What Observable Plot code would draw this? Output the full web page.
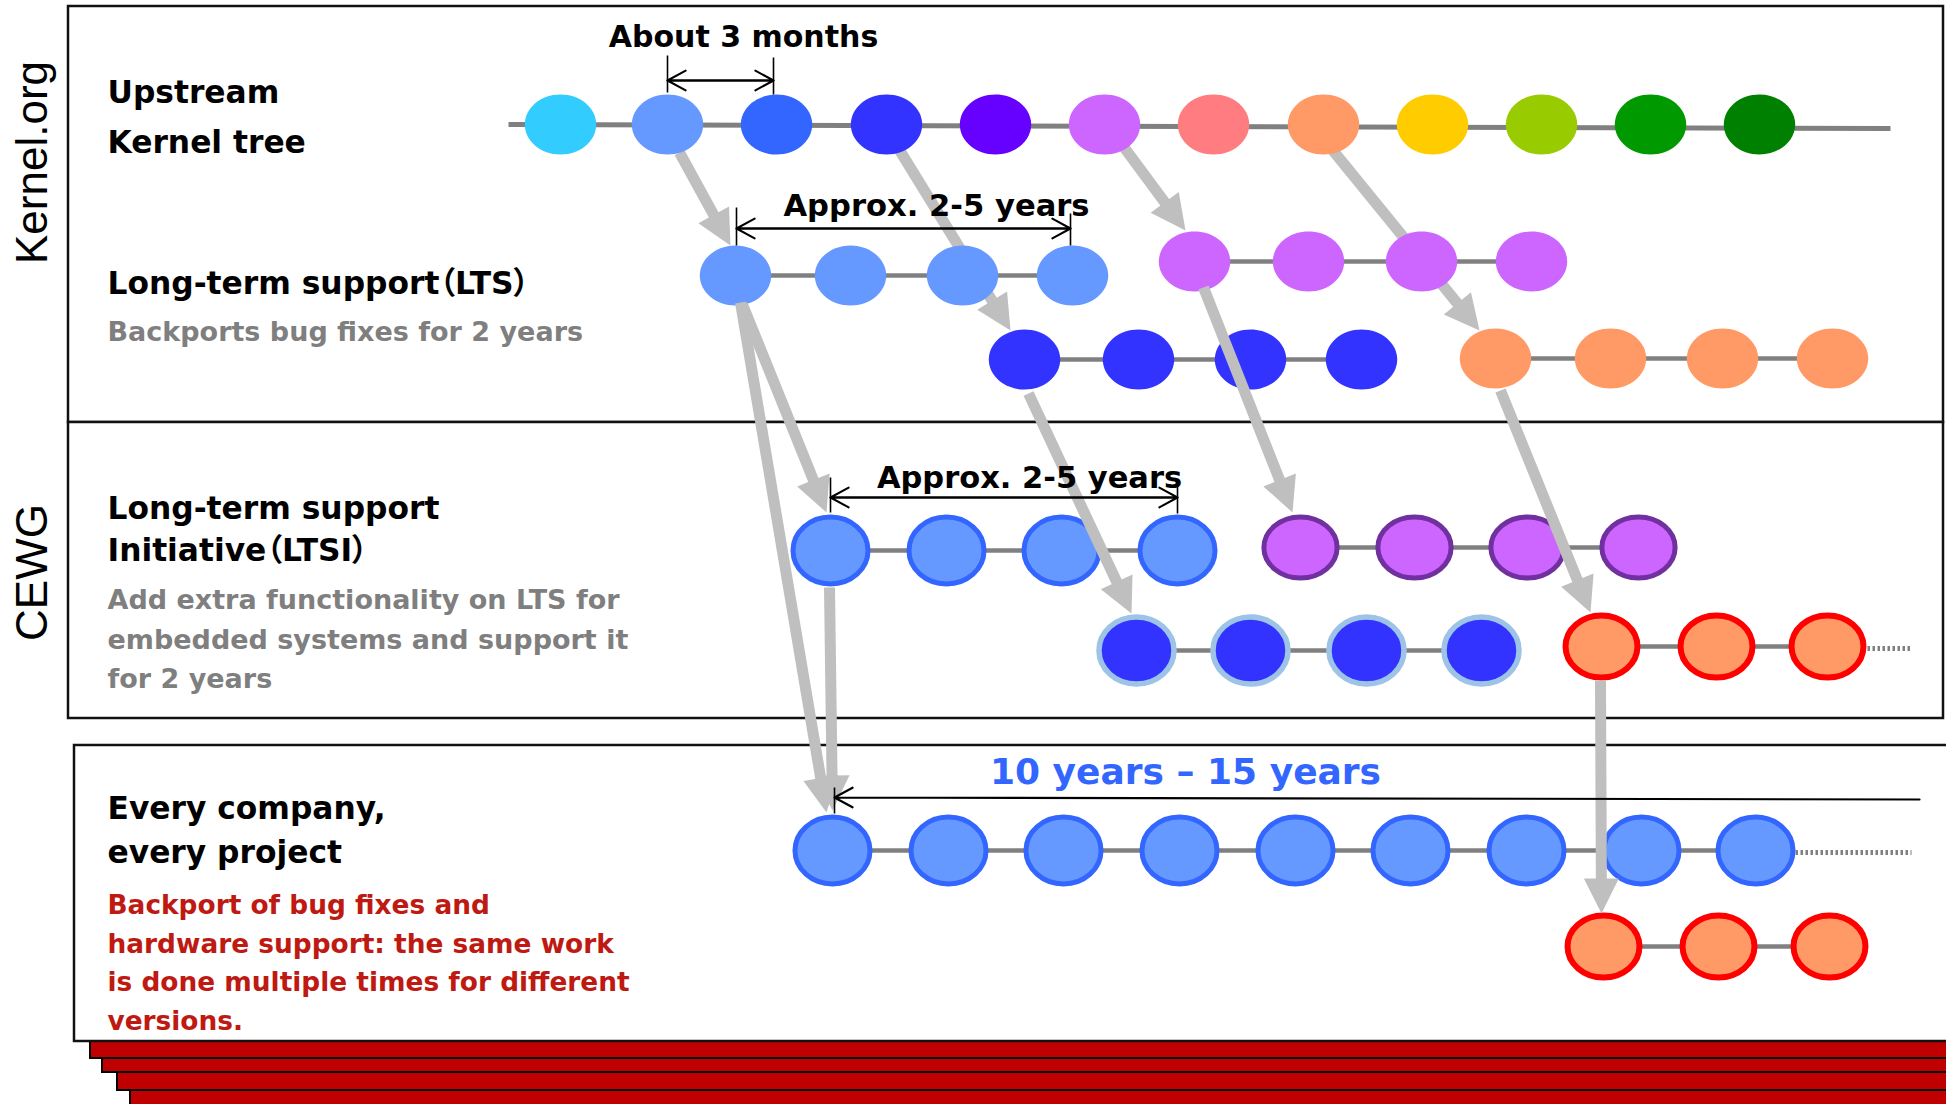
<!DOCTYPE html>
<html>
<head>
<meta charset="utf-8">
<script src="https://cdn.jsdelivr.net/npm/d3@7"></script>
<script src="https://cdn.jsdelivr.net/npm/@observablehq/plot@0.6"></script>
<style>
  html, body { margin: 0; padding: 0; background: #ffffff; }
  svg { display: block; }
  svg text { font-feature-settings: "palt" 1; }
</style>
</head>
<body>
<div id="chart"></div>
<script>
// ---------------- data (diagram units) ----------------
// Upstream kernel releases (one every ~3 months)
const upstreamX = [560, 667, 776, 886, 995, 1104, 1213, 1323, 1432, 1541, 1650, 1759];
const upstreamColors = ["#33CCFF", "#6699FF", "#3366FF", "#3333FF", "#6600FF", "#CC66FF",
                        "#FF7C80", "#FF9966", "#FFCC00", "#99CC00", "#009900", "#008000"];
const upstreamRowY = 124;
const upstreamSpan = [508, 1890];

// Long-term support (LTS) branches
const ltsRows = [
  {y: 275, x: [735, 850, 962, 1072], fill: "#6699FF"},
  {y: 261, x: [1194, 1308, 1421, 1531], fill: "#CC66FF"},
  {y: 359, x: [1024, 1138, 1250, 1361], fill: "#3333FF"},
  {y: 358, x: [1495, 1610, 1722, 1832], fill: "#FF9966"}
];

// LTSI branches (CEWG)
const ltsiRows = [
  {y: 550, x: [830, 946, 1061, 1177], fill: "#6699FF", ring: "#3366FF"},
  {y: 547, x: [1300, 1414, 1527, 1638], fill: "#CC66FF", ring: "#7030A0"},
  {y: 650, x: [1136, 1250, 1366, 1481], fill: "#3333FF", ring: "#9DC3E6"},
  {y: 646, x: [1601, 1716, 1827], fill: "#FF9966", ring: "#FF0000", tail: 1910}
];

// Every company / every project
const companyRows = [
  {y: 850, x: [832, 948, 1063, 1179, 1295, 1410, 1526, 1641, 1755], fill: "#6699FF", ring: "#3366FF", tail: 1911},
  {y: 946, x: [1603, 1718, 1829], fill: "#FF9966", ring: "#FF0000"}
];

// Branch-off arrows: upstream -> LTS
const branchArrows = [
  {x1: 679, y1: 152, x2: 730, y2: 245},
  {x1: 898, y1: 148, x2: 1010, y2: 330},
  {x1: 1120, y1: 142, x2: 1185, y2: 230},
  {x1: 1330, y1: 147, x2: 1479, y2: 330}
];
// Branch-off arrows: LTS -> LTSI -> companies
const downstreamArrows = [
  {x1: 742, y1: 304, x2: 826, y2: 512},
  {x1: 740, y1: 302, x2: 826, y2: 812},
  {x1: 829, y1: 587, x2: 832, y2: 810},
  {x1: 1028, y1: 393, x2: 1131, y2: 613},
  {x1: 1203, y1: 287, x2: 1292, y2: 512},
  {x1: 1500, y1: 390, x2: 1590, y2: 612},
  {x1: 1600, y1: 680, x2: 1601, y2: 913}
];

// Dimension spans (double-headed) and their ticks
const spans = [
  {x1: 667, x2: 773, y: 80},
  {x1: 736, x2: 1070, y: 228},
  {x1: 830, x2: 1177, y: 497}
];
const spanTicks = [
  {x: 667, y1: 55, y2: 92}, {x: 773, y1: 57, y2: 94},
  {x: 736, y1: 207, y2: 245}, {x: 1070, y1: 213, y2: 245},
  {x: 830, y1: 477, y2: 512}, {x: 1177, y1: 483, y2: 513},
  {x: 834, y1: 787, y2: 813}
];
const lifeSpan = [{x1: 1919, y1: 799, x2: 834, y2: 797}];

const spanLabels = [
  {text: "About 3 months", x: 743, y: 46, size: 30},
  {text: "Approx. 2-5 years", x: 936, y: 215, size: 30.6},
  {text: "Approx. 2-5 years", x: 1029, y: 487, size: 30.5}
];
const lifeLabel = [{text: "10 years – 15 years", x: 1185, y: 783}];

// Section frames and stacked "pages"
const frames = [
  {x1: 68, y1: 6, x2: 1943, y2: 422},
  {x1: 68, y1: 422, x2: 1943, y2: 718},
  {x1: 74, y1: 745, x2: 1970, y2: 1041}
];
const pages = [
  {x1: 130, y1: 1000, x2: 1970, y2: 1130},
  {x1: 117, y1: 1000, x2: 1970, y2: 1090},
  {x1: 102, y1: 1000, x2: 1970, y2: 1072},
  {x1: 90, y1: 1000, x2: 1970, y2: 1058}
];

const sideLabels = [
  {text: "Kernel.org", x: 46, y: 162},
  {text: "CEWG", x: 46, y: 572}
];
const titleLines = [
  {text: "Upstream", x: 107, y: 102},
  {text: "Kernel tree", x: 107, y: 152},
  {text: "Long-term support（LTS）", x: 107, y: 293},
  {text: "Long-term support", x: 107, y: 518},
  {text: "Initiative（LTSI）", x: 107, y: 560},
  {text: "Every company,", x: 107, y: 818},
  {text: "every project", x: 107, y: 862}
];
const grayNotes = [
  {text: "Backports bug fixes for 2 years", x: 107, y: 340},
  {text: "Add extra functionality on LTS for", x: 107, y: 608},
  {text: "embedded systems and support it", x: 107, y: 648},
  {text: "for 2 years", x: 107, y: 687}
];
const redNotes = [
  {text: "Backport of bug fixes and", x: 107, y: 913},
  {text: "hardware support: the same work", x: 107, y: 952},
  {text: "is done multiple times for different", x: 107, y: 990},
  {text: "versions.", x: 107, y: 1029}
];

// ---------------- helpers ----------------
const BOLD = "'DejaVu Sans', 'Noto Sans CJK JP', Verdana, sans-serif";
const ARROW_GRAY = "#BFBFBF";
const LINE_GRAY = "#808080";

function ellipseSymbol(aspect) {
  const k = 0.5522847;
  return {
    draw(ctx, size) {
      const ry = Math.sqrt(size / Math.PI), rx = ry * aspect;
      ctx.moveTo(rx, 0);
      ctx.bezierCurveTo(rx, k * ry, k * rx, ry, 0, ry);
      ctx.bezierCurveTo(-k * rx, ry, -rx, k * ry, -rx, 0);
      ctx.bezierCurveTo(-rx, -k * ry, -k * rx, -ry, 0, -ry);
      ctx.bezierCurveTo(k * rx, -ry, rx, -k * ry, rx, 0);
      ctx.closePath();
    }
  };
}

const ringStyle = {
  "#3366FF": {r: 33.5, aspect: 1.12, w: 5},
  "#9DC3E6": {r: 33.5, aspect: 1.12, w: 5.5},
  "#7030A0": {r: 30.5, aspect: 1.2, w: 5},
  "#FF0000": {r: 31, aspect: 1.16, w: 6}
};

function fatArrows(data) {
  const HL = 35, HW = 35;
  const geo = data.map((d, i) => {
    const dx = d.x2 - d.x1, dy = d.y2 - d.y1, L = Math.hypot(dx, dy);
    const ux = dx / L, uy = dy / L;
    const bx = d.x2 - ux * HL, by = d.y2 - uy * HL;
    return {
      ...d, id: i,
      sx: d.x2 - ux * (HL - 4), sy: d.y2 - uy * (HL - 4),
      tri: [[d.x2, d.y2], [bx - uy * HW / 2, by + ux * HW / 2], [bx + uy * HW / 2, by - ux * HW / 2], [d.x2, d.y2]]
    };
  });
  const heads = geo.flatMap(d => d.tri.map(([x, y]) => ({x, y, id: d.id})));
  return [
    Plot.link(geo, {x1: "x1", y1: "y1", x2: "sx", y2: "sy", stroke: ARROW_GRAY, strokeWidth: 11}),
    Plot.line(heads, {x: "x", y: "y", z: "id", fill: ARROW_GRAY, stroke: "none"})
  ];
}

function rowLine(rows) {
  return Plot.link(rows, {
    x1: d => d.x[0], x2: d => d.x[d.x.length - 1], y1: "y", y2: "y",
    stroke: LINE_GRAY, strokeWidth: 4.5
  });
}

function rowTails(rows) {
  const t = rows.filter(d => d.tail != null);
  return Plot.link(t, {
    x1: d => d.x[d.x.length - 1] + 40, x2: "tail", y1: d => d.y + 2, y2: d => d.y + 2,
    stroke: LINE_GRAY, strokeWidth: 5, strokeDasharray: "2.5,2.5"
  });
}

function ringNodes(rows) {
  return rows.map(row => {
    const st = ringStyle[row.ring];
    return Plot.dot(row.x.map(x => ({x, y: row.y})), {
      x: "x", y: "y", r: st.r, symbol: ellipseSymbol(st.aspect),
      fill: row.fill, stroke: row.ring, strokeWidth: st.w
    });
  });
}

// ---------------- chart ----------------
const upstreamNodes = upstreamX.map((x, i) => ({x, y: upstreamRowY, fill: upstreamColors[i]}));
const ltsNodes = ltsRows.flatMap(row => row.x.map(x => ({x, y: row.y, fill: row.fill})));

const chart = Plot.plot({
  width: 1946,
  height: 1104,
  margin: 0,
  x: {domain: [0, 1946], range: [0, 1946], axis: null},
  y: {domain: [0, 1104], range: [0, 1104], axis: null},
  color: {type: "identity"},
  style: {background: "#ffffff", overflow: "hidden"},
  marks: [
    // stacked red pages behind the "every company" frame
    Plot.rect(pages, {x1: "x1", x2: "x2", y1: "y1", y2: "y2", fill: "#C00000", stroke: "#000000", strokeWidth: 2}),
    // section frames
    Plot.rect(frames, {x1: "x1", x2: "x2", y1: "y1", y2: "y2", fill: "#ffffff", stroke: "#111111", strokeWidth: 2.5}),

    // timelines
    Plot.link([{x1: upstreamSpan[0], x2: upstreamSpan[1], y: upstreamRowY}], {
      x1: "x1", x2: "x2", y1: "y", y2: d => d.y + 4, stroke: LINE_GRAY, strokeWidth: 5
    }),
    rowLine(ltsRows),
    rowLine(ltsiRows),
    rowLine(companyRows),
    rowTails([...ltsiRows, ...companyRows]),

    // upstream -> LTS arrows (behind the nodes)
    ...fatArrows(branchArrows),

    // nodes
    Plot.dot(upstreamNodes, {x: "x", y: "y", r: 30, symbol: ellipseSymbol(1.19), fill: "fill"}),
    Plot.dot(ltsNodes, {x: "x", y: "y", r: 30, symbol: ellipseSymbol(1.19), fill: "fill"}),
    ...ringNodes(ltsiRows),
    ...ringNodes(companyRows),

    // LTS -> LTSI -> company arrows
    ...fatArrows(downstreamArrows),

    // dimension lines
    Plot.link(spanTicks, {x1: "x", x2: "x", y1: "y1", y2: "y2", stroke: "#000000", strokeWidth: 1.6}),
    Plot.arrow(spans, {x1: "x1", y1: "y", x2: "x2", y2: "y", stroke: "#000000", strokeWidth: 2, headLength: 15.5, headAngle: 57}),
    Plot.arrow(spans, {x1: "x2", y1: "y", x2: "x1", y2: "y", stroke: "#000000", strokeWidth: 2, headLength: 15.5, headAngle: 57}),
    Plot.arrow(lifeSpan, {x1: "x1", y1: "y1", x2: "x2", y2: "y2", stroke: "#000000", strokeWidth: 2.2, headLength: 14, headAngle: 57}),

    // texts
    Plot.text(sideLabels, {x: "x", y: "y", text: "text", rotate: -90, textAnchor: "middle", lineAnchor: "bottom",
      fontFamily: "'Liberation Sans', Arial, sans-serif", fontSize: 44, fill: "#000000"}),
    Plot.text(titleLines, {x: "x", y: "y", text: "text", textAnchor: "start", lineAnchor: "bottom",
      fontFamily: BOLD, fontWeight: "bold", fontSize: 31.3, fill: "#000000"}),
    Plot.text(grayNotes, {x: "x", y: "y", text: "text", textAnchor: "start", lineAnchor: "bottom",
      fontFamily: BOLD, fontWeight: "bold", fontSize: 27, fill: "#7F7F7F"}),
    Plot.text(redNotes, {x: "x", y: "y", text: "text", textAnchor: "start", lineAnchor: "bottom",
      fontFamily: BOLD, fontWeight: "bold", fontSize: 26.4, fill: "#BE1A12"}),
    Plot.text(spanLabels, {x: "x", y: "y", text: "text", textAnchor: "middle", lineAnchor: "bottom",
      fontFamily: BOLD, fontWeight: "bold", fontSize: d => d.size, fill: "#000000"}),
    Plot.text(lifeLabel, {x: "x", y: "y", text: "text", textAnchor: "middle", lineAnchor: "bottom",
      fontFamily: BOLD, fontWeight: "bold", fontSize: 36, fill: "#3366FF"})
  ]
});

document.getElementById("chart").appendChild(chart);
</script>
</body>
</html>
